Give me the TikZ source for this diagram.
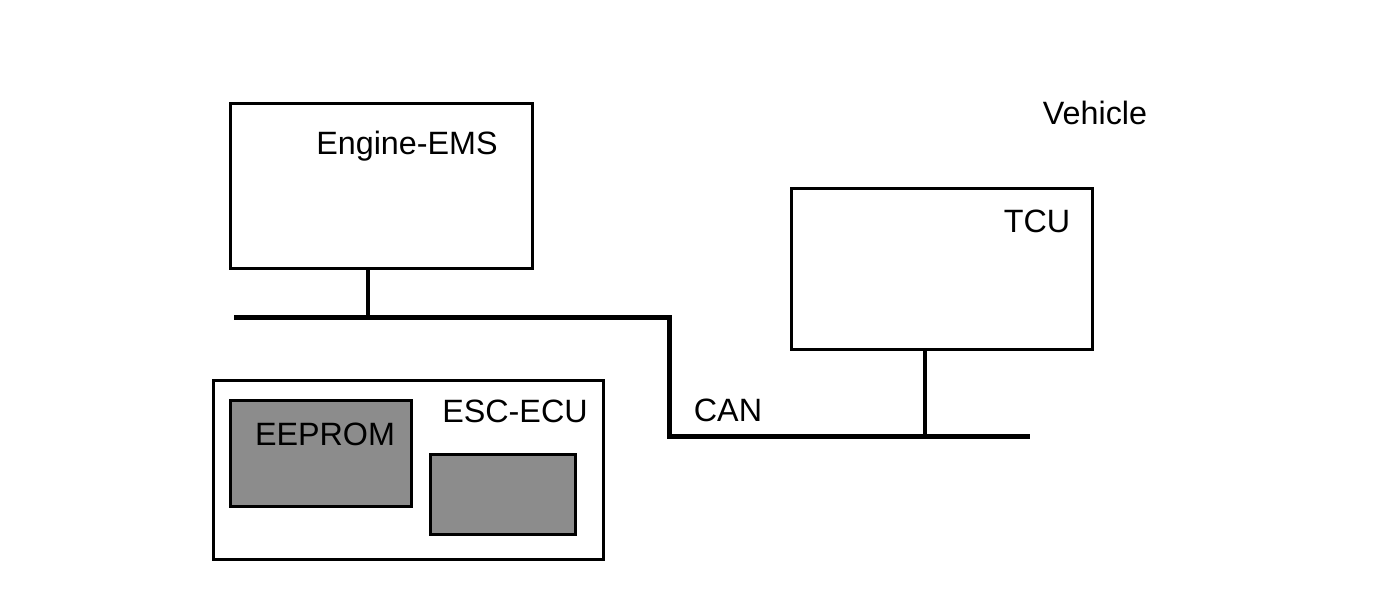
\documentclass[tikz,border=0pt]{standalone}
\usepackage{fontspec}
\setmainfont{Liberation Sans}
\begin{document}
\begin{tikzpicture}[x=1pt,y=-1pt,
  box/.style={draw=black,line width=2.8pt,anchor=north west,inner sep=0pt,fill=white},
  chip/.style={draw=black,line width=3pt,anchor=north west,inner sep=0pt,fill=black!45},
  lbl/.style={font=\fontsize{32.3}{38}\selectfont,inner sep=0pt},
  bus/.style={line width=5pt},
  stub/.style={line width=3.6pt}]
\useasboundingbox (0,0) rectangle (1376,612);
% boxes
\node[box,minimum width=302pt,minimum height=165pt] (ems) at (229,102) {};
\node[box,minimum width=301pt,minimum height=161pt] (tcu) at (790,187) {};
\node[box,minimum width=390pt,minimum height=179pt] (esc) at (212,379) {};
\node[chip,minimum width=181pt,minimum height=106pt] (eeprom) at (229,399) {};
\node[chip,minimum width=145pt,minimum height=80pt] (mcu) at (429,453) {};
% labels
\node[lbl] (emsl) at (407,146) {Engine-EMS};
\node[lbl] (tcul) at (1037,221) {TCU};
\node[lbl] (vehl) at (1095,113) {Vehicle};
\node[lbl] (escl) at (515,411) {ESC-ECU};
\node[lbl] (eepl) at (325,434) {EEPROM};
\node[lbl] (canl) at (728,410) {CAN};
% bus
\coordinate (busL) at (234,318);
\coordinate (bendA) at (669,318);
\coordinate (bendB) at (669,436);
\coordinate (busR) at (1030,436);
\coordinate (tapE) at (368,318);
\coordinate (tapT) at (925,436);
\draw[bus,line join=miter] (busL) -- (bendA) -- (bendB) -- (busR);
\draw[stub] (ems.south -| tapE) -- (tapE);
\draw[stub] (tcu.south -| tapT) -- (tapT);
\end{tikzpicture}
\end{document}
